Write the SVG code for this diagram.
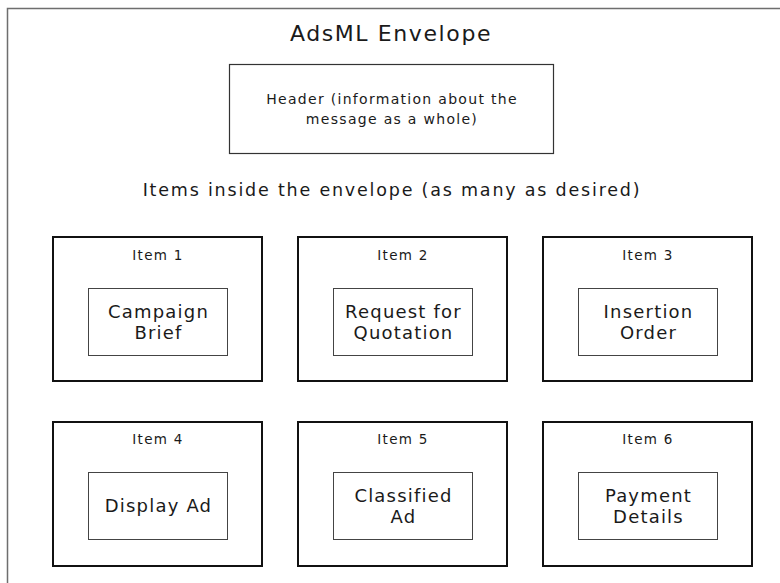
<svg xmlns="http://www.w3.org/2000/svg" width="780" height="583" viewBox="0 0 780 583">
<style>
text{font-family:"DejaVu Sans",Verdana,sans-serif;fill:#1a1a1a;text-anchor:middle}
.env{fill:none;stroke:#6e6e6e;stroke-width:1.5}
.hdr{fill:#fff;stroke:#333;stroke-width:1.2}
.item{fill:#fff;stroke:#111;stroke-width:2}
.inner{fill:#fff;stroke:#444;stroke-width:1}
.t1{font-size:22px;letter-spacing:1.6px}
.t2{font-size:14px;letter-spacing:1.3px}
.t3{font-size:17.5px;letter-spacing:1.8px}
.il{font-size:13.5px;letter-spacing:1.3px}
.in{font-size:18px;letter-spacing:1.2px}
</style>
<rect width="780" height="583" fill="#fff"/>
<g id="envelope">
<rect class="env" x="7.5" y="8.5" width="800" height="600"/>
<text class="t1" x="391" y="41">AdsML Envelope</text>
</g>
<g id="header">
<rect class="hdr" x="229.5" y="64.5" width="324" height="89"/>
<text class="t2" x="392" y="104">Header (information about the</text>
<text class="t2" x="392" y="124">message as a whole)</text>
</g>
<text class="t3" x="392" y="196">Items inside the envelope (as many as desired)</text>
<g id="item1">
<rect class="item" x="53" y="237" width="209" height="144"/>
<text class="il" x="158" y="260">Item 1</text>
<rect class="inner" x="88.5" y="288.5" width="139" height="67"/>
<text class="in" x="158.5" y="318">Campaign</text>
<text class="in" x="158.5" y="339">Brief</text>
</g>
<g id="item2">
<rect class="item" x="298" y="237" width="209" height="144"/>
<text class="il" x="403" y="260">Item 2</text>
<rect class="inner" x="333.5" y="288.5" width="139" height="67"/>
<text class="in" x="403.5" y="318">Request for</text>
<text class="in" x="403.5" y="339">Quotation</text>
</g>
<g id="item3">
<rect class="item" x="543" y="237" width="209" height="144"/>
<text class="il" x="648" y="260">Item 3</text>
<rect class="inner" x="578.5" y="288.5" width="139" height="67"/>
<text class="in" x="648.5" y="318">Insertion</text>
<text class="in" x="648.5" y="339">Order</text>
</g>
<g id="item4">
<rect class="item" x="53" y="422" width="209" height="144"/>
<text class="il" x="158" y="444">Item 4</text>
<rect class="inner" x="88.5" y="472.5" width="139" height="67"/>
<text class="in" x="158.5" y="512">Display Ad</text>
</g>
<g id="item5">
<rect class="item" x="298" y="422" width="209" height="144"/>
<text class="il" x="403" y="444">Item 5</text>
<rect class="inner" x="333.5" y="472.5" width="139" height="67"/>
<text class="in" x="403.5" y="502">Classified</text>
<text class="in" x="403.5" y="523">Ad</text>
</g>
<g id="item6">
<rect class="item" x="543" y="422" width="209" height="144"/>
<text class="il" x="648" y="444">Item 6</text>
<rect class="inner" x="578.5" y="472.5" width="139" height="67"/>
<text class="in" x="648.5" y="502">Payment</text>
<text class="in" x="648.5" y="523">Details</text>
</g>
<g id="connectors"></g>
</svg>
